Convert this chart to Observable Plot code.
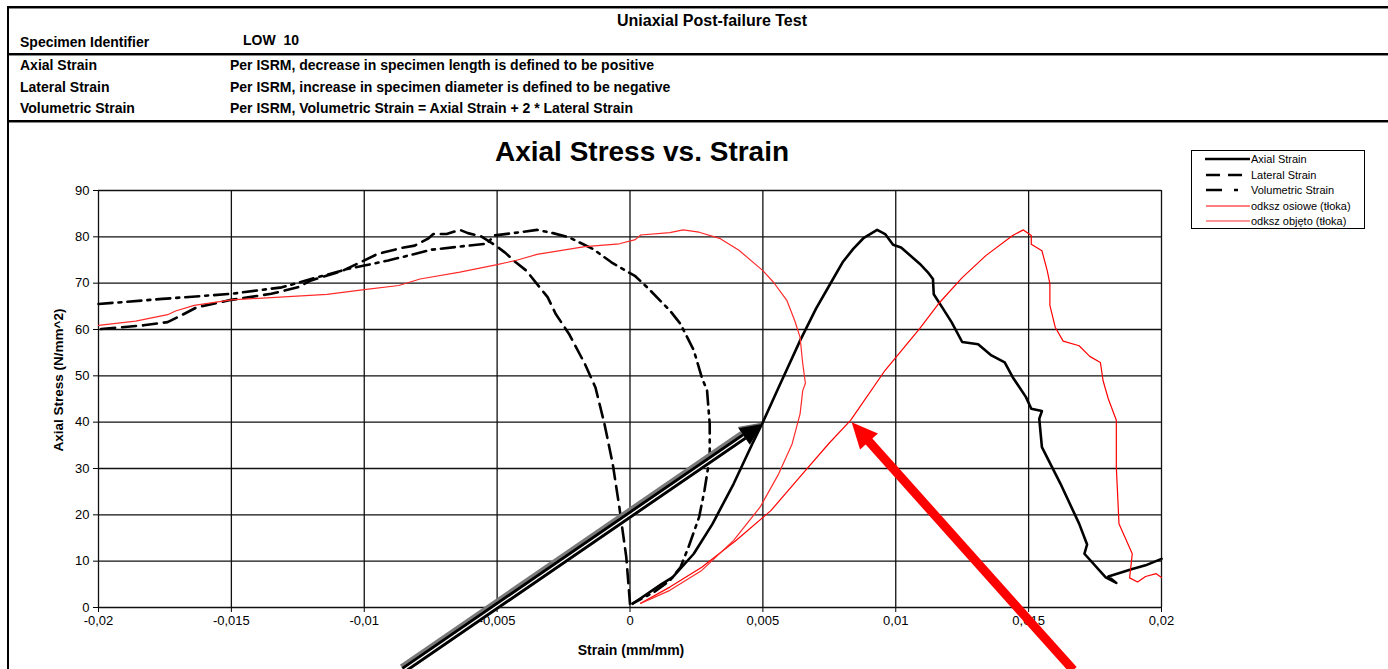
<!DOCTYPE html>
<html>
<head>
<meta charset="utf-8">
<script src="https://cdn.jsdelivr.net/npm/d3@7"></script>
<script src="https://cdn.jsdelivr.net/npm/@observablehq/plot@0.6"></script>
<style>
  html, body { margin: 0; padding: 0; background: #fff; }
  body { width: 1388px; height: 669px; position: relative; overflow: hidden;
         font-family: "Liberation Sans", Arial, sans-serif; color: #000; }
  .abs { position: absolute; white-space: nowrap; }
  .b { font-weight: bold; }
  .hline { position: absolute; left: 8px; width: 1390px; height: 2px; background: #000;
           box-shadow: 0 1px 0 #888; z-index: 5; }
  .vline { position: absolute; left: 7px; top: 6px; width: 2px; height: 680px; background: #000; z-index: 5; }
  #legend { position: absolute; left: 1191px; top: 150px; width: 172px; height: 77px;
            border: 1px solid #000; background: #fff; z-index: 4; }
  #legend .row { position: absolute; left: 0; height: 14px; font-size: 11px; line-height: 14px; }
  #legend svg { position: absolute; left: 10px; top: 3px; }
  #legend span { position: absolute; left: 59px; top: 0; }
</style>
</head>
<body>
<div id="chart" class="abs" style="left:0;top:125px;"></div>

<div class="hline" style="top:6px;"></div>
<div class="hline" style="top:53px;"></div>
<div class="hline" style="top:120px;"></div>
<div class="vline"></div>

<div class="abs b" style="left:712px;top:12px;font-size:16px;transform:translateX(-50%);">Uniaxial Post-failure Test</div>
<div class="abs b" style="left:20px;top:34px;font-size:14px;">Specimen Identifier</div>
<div class="abs b" style="left:243px;top:32px;font-size:14px;">LOW&nbsp;&nbsp;10</div>
<div class="abs b" style="left:20px;top:57px;font-size:14px;">Axial Strain</div>
<div class="abs b" style="left:230px;top:57px;font-size:14px;">Per ISRM, decrease in specimen length is defined to be positive</div>
<div class="abs b" style="left:20px;top:79px;font-size:14px;">Lateral Strain</div>
<div class="abs b" style="left:230px;top:79px;font-size:14px;">Per ISRM, increase in specimen diameter is defined to be negative</div>
<div class="abs b" style="left:20px;top:100px;font-size:14px;">Volumetric Strain</div>
<div class="abs b" style="left:230px;top:100px;font-size:14px;">Per ISRM, Volumetric Strain = Axial Strain + 2 * Lateral Strain</div>

<div class="abs b" style="left:642px;top:136px;font-size:28px;transform:translateX(-50%);">Axial Stress vs. Strain</div>
<div class="abs b" style="left:631px;top:642px;font-size:14px;transform:translateX(-50%);z-index:3;">Strain (mm/mm)</div>
<div class="abs b" style="left:58px;top:380px;font-size:13.5px;transform:translate(-50%,-50%) rotate(-90deg);">Axial Stress (N/mm^2)</div>

<div id="legend"></div>

<script>
// ---------- data ----------
const xTicks = [-0.02, -0.015, -0.01, -0.005, 0, 0.005, 0.01, 0.015, 0.02];
const xTickLabels = ["-0,02", "-0,015", "-0,01", "-0,005", "0", "0,005", "0,01", "0,015", "0,02"];
const yTicks = [0, 10, 20, 30, 40, 50, 60, 70, 80, 90];
const yTickLabels = ["0", "10", "20", "30", "40", "50", "60", "70", "80", "90"];

const seriesNames = ["Axial Strain", "Lateral Strain", "Volumetric Strain", "odksz osiowe (tłoka)", "odksz objęto (tłoka)"];

// [strain (mm/mm), axial stress (N/mm^2)]
const axialStrain = [
  [0.0001,0.8],[0.0012,5.1],[0.0016,6.5],[0.0024,11.6],[0.0031,18],[0.0039,26.7],[0.0046,35.3],
  [0.005,40],[0.0056,47.6],[0.0064,57.6],[0.007,64.5],[0.0075,69.5],[0.008,74.5],[0.0084,77.4],[0.0088,79.8],[0.0093,81.5],
  [0.0096,80.6],[0.0099,78.3],[0.0102,77.7],[0.0109,74.2],[0.0112,72.4],[0.0114,70.9],[0.01143,67.6],
  [0.0117,65.2],[0.0121,61.6],[0.0125,57.3],[0.0131,56.8],[0.0136,54.4],[0.0141,52.9],[0.0144,49.7],
  [0.0149,45.4],[0.0151,42.9],[0.0155,42.4],[0.0154,40.7],[0.0155,34.6],[0.0162,26.7],[0.0169,18.1],
  [0.0172,13.6],[0.0171,11.6],[0.0179,6.5],[0.0183,5.3],[0.018,6.7],[0.0189,8.3],[0.0194,9.1],[0.02,10.5]
];
const lateralStrain = [
  [-0.0199,60.1],[-0.0183,60.9],[-0.0174,61.6],[-0.0169,63],[-0.0163,64.8],[-0.015,66.4],[-0.0135,67.7],
  [-0.0125,69.1],[-0.012,70.6],[-0.0108,72.7],[-0.0095,76.3],[-0.0086,77.6],[-0.0081,78.1],[-0.0076,79.6],
  [-0.0074,80.6],[-0.0069,80.6],[-0.0064,81.5],[-0.0061,80.8],[-0.0056,80.1],[-0.0051,78.3],[-0.0047,76.6],
  [-0.0043,74.5],[-0.0039,72.7],[-0.0034,69.1],[-0.0031,67],[-0.0028,63.4],[-0.0023,59.1],[-0.0017,52.6],
  [-0.0013,47.5],[-0.00096,39.6],[-0.00065,31],[-0.0004,21.6],[-0.00014,10.9],[0,0.8]
];
const volumetricStrain = [
  [-0.02,65.5],[-0.0176,66.6],[-0.015,67.7],[-0.0131,69.1],[-0.012,70.9],[-0.0106,73.1],[-0.01,73.8],
  [-0.0091,74.9],[-0.0081,76.3],[-0.0075,77.2],[-0.0064,77.9],[-0.0054,78.5],[-0.0051,80.3],[-0.0044,80.8],
  [-0.0035,81.5],[-0.0029,80.8],[-0.0023,79.9],[-0.0014,77.4],[-0.0007,74.5],[0.0002,71.5],[0.0007,68.8],
  [0.0015,64.1],[0.0019,61.2],[0.0024,55.5],[0.0027,49.7],[0.0029,46.8],[0.003,39.6],[0.003,32.4],
  [0.0028,25.2],[0.0026,19.5],[0.0022,13],[0.0019,8.7],[0.0015,5.8],[0.0009,3.3],[0.0001,0.9]
];
const odkszOsiowe = [
  [0.0004,0.9],[0.0015,4.4],[0.0027,8.7],[0.004,14.5],[0.0053,20.9],[0.0065,28.9],[0.0075,35.5],[0.0083,40.4],
  [0.0096,51.2],[0.0109,60.2],[0.0116,65.5],[0.0125,71.2],[0.0134,76],[0.0144,80.3],[0.0148,81.5],
  [0.0151,80.3],[0.0151,78.4],[0.0155,77],[0.0157,72.7],[0.0158,69.9],[0.0158,65.2],[0.016,60.5],
  [0.0163,57.5],[0.0169,56.5],[0.0173,54.2],[0.0177,52.9],[0.0178,49],[0.018,45],[0.0183,40.4],
  [0.0183,30.3],[0.0184,18.1],[0.0189,11.6],[0.0188,6.4],[0.0191,5.5],[0.0194,6.7],[0.0198,7.3],[0.02,6.5]
];
const odkszObjeto = [
  [-0.02,60.9],[-0.0186,61.8],[-0.0174,63.2],[-0.0171,64],[-0.0164,65.2],[-0.015,66.4],[-0.0114,67.6],
  [-0.01,68.6],[-0.0087,69.5],[-0.0079,70.9],[-0.0064,72.4],[-0.005,74],[-0.0043,74.9],[-0.0035,76.2],
  [-0.0017,77.9],[-0.0004,78.5],[0.0002,79.4],[0.0004,80.4],[0.0015,80.9],[0.002,81.5],[0.0026,81],
  [0.0034,79.6],[0.0041,77.1],[0.005,72.7],[0.0054,70.2],[0.0059,66.3],[0.0062,61.9],[0.0064,58.3],
  [0.0065,52.6],[0.0066,48.4],[0.0065,46.8],[0.0064,41.8],[0.0061,35.3],[0.0056,28.9],[0.0049,21.7],
  [0.0039,14.5],[0.0027,8],[0.0015,3.7],[0.0004,0.9]
];

// annotation arrows: [tailStrain, tailStress, tipStrain, tipStress]
const blackArrow = [-0.0085, -13.6, 0.005, 39.5];
const redArrow = [0.0167, -13.6, 0.00836, 39.9];

// ---------- styles ----------
const seriesStyles = [
  {stroke: "#000", strokeWidth: 2.6, dash: null},
  {stroke: "#000", strokeWidth: 2.6, dash: "14,7"},
  {stroke: "#000", strokeWidth: 2.6, dash: "14,6,3,6"},
  {stroke: "#ff0000", strokeWidth: 1.2, dash: null},
  {stroke: "#ff2a2a", strokeWidth: 1.2, dash: null}
];
const seriesData = [axialStrain, lateralStrain, volumetricStrain, odkszOsiowe, odkszObjeto];

function arrowMark(spec, kind) {
  return (index, scales) => {
    const g = d3.create("svg:g");
    const x0 = scales.x(spec[0]), y0 = scales.y(spec[1]);
    const x1 = scales.x(spec[2]), y1 = scales.y(spec[3]);
    const dx = x1 - x0, dy = y1 - y0, len = Math.hypot(dx, dy);
    const ux = dx / len, uy = dy / len, nx = -uy, ny = ux;
    const L = kind === "red" ? 26 : 22, W = kind === "red" ? 12 : 10;
    const bx = x1 - ux * L, by = y1 - uy * L;
    const head = [[x1, y1], [bx + nx * W, by + ny * W], [bx - nx * W, by - ny * W]];
    if (kind === "red") {
      g.append("line").attr("x1", x0).attr("y1", y0).attr("x2", bx + ux * 4).attr("y2", by + uy * 4)
        .attr("stroke", "#ff0000").attr("stroke-width", 9);
      g.append("polygon").attr("points", head.map(p => p.join(",")).join(" ")).attr("fill", "#ff0000");
    } else {
      const ox = -nx * 1.5, oy = -ny * 1.5;
      g.append("line").attr("x1", x0 + ox).attr("y1", y0 + oy).attr("x2", bx + ox).attr("y2", by + oy)
        .attr("stroke", "#7a7a7a").attr("stroke-width", 10);
      g.append("line").attr("x1", x0).attr("y1", y0).attr("x2", bx + ux * 2).attr("y2", by + uy * 2)
        .attr("stroke", "#000").attr("stroke-width", 7);
      g.append("line").attr("x1", x0).attr("y1", y0).attr("x2", bx).attr("y2", by)
        .attr("stroke", "#fff").attr("stroke-width", 1.3);
      g.append("polygon").attr("points", head.map(p => [p[0] + ox, p[1] + oy].join(",")).join(" ")).attr("fill", "#666");
      g.append("polygon").attr("points", head.map(p => p.join(",")).join(" ")).attr("fill", "#000");
    }
    return g.node();
  };
}

const lineMarks = seriesData.map((d, i) => Plot.line(d, {
  x: p => p[0], y: p => p[1],
  stroke: seriesStyles[i].stroke, strokeWidth: seriesStyles[i].strokeWidth,
  strokeDasharray: seriesStyles[i].dash, strokeLinejoin: "round", curve: "linear"
}));

const chart = Plot.plot({
  width: 1388,
  height: 544,
  marginLeft: 98,
  marginRight: 227,
  marginTop: 65,
  marginBottom: 62,
  style: {fontFamily: "'Liberation Sans', Arial, sans-serif", fontSize: "13px", color: "#000", background: "transparent", overflow: "visible"},
  x: {domain: [-0.02, 0.02], ticks: xTicks, tickFormat: d => xTickLabels[xTicks.indexOf(d)], tickSize: 5, tickPadding: 3, label: null},
  y: {domain: [0, 90], ticks: yTicks, tickFormat: d => yTickLabels[yTicks.indexOf(d)], tickSize: 5, tickPadding: 4, label: null},
  marks: [
    Plot.ruleX(xTicks, {stroke: "#111", strokeWidth: 1.3}),
    Plot.ruleY(yTicks, {stroke: "#111", strokeWidth: 1.3}),
    ...lineMarks,
    arrowMark(blackArrow, "black"),
    arrowMark(redArrow, "red")
  ]
});
document.getElementById("chart").appendChild(chart);

// ---------- legend ----------
const legend = d3.select("#legend");
const rowTops = [1, 17, 32, 48, 63];
seriesNames.forEach((name, i) => {
  const row = legend.append("div").attr("class", "row").style("top", rowTops[i] + "px").style("width", "172px");
  const s = row.append("svg").attr("width", 50).attr("height", 8);
  s.append("line").attr("x1", i === 0 ? 3 : 4).attr("x2", 48).attr("y1", 4).attr("y2", 4)
    .attr("stroke", seriesStyles[i].stroke)
    .attr("stroke-width", i < 3 ? 2.6 : 1.2)
    .attr("stroke-dasharray", i === 1 ? "14,8" : i === 2 ? "16,12,4,30" : null);
  row.append("span").text(name);
});
</script>
</body>
</html>
